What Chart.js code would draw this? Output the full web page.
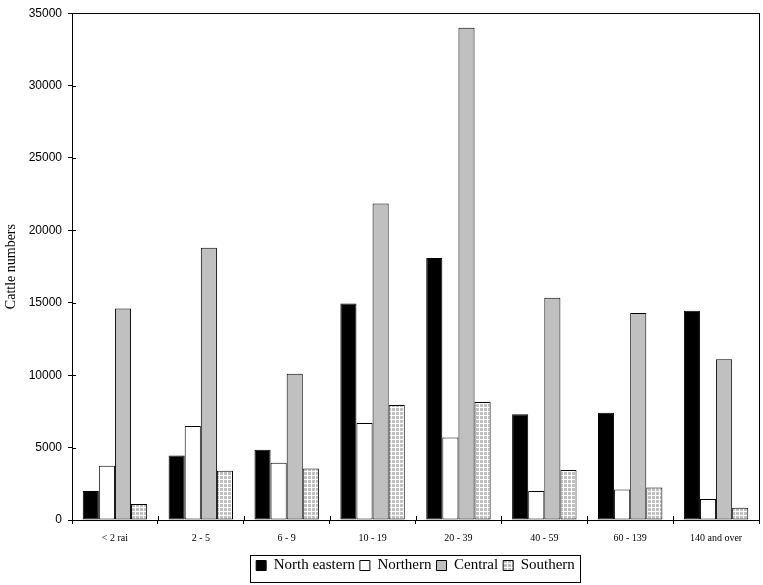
<!DOCTYPE html>
<html lang="en">
<head>
<meta charset="UTF-8">
<title>Cattle numbers</title>
<script src="https://cdn.jsdelivr.net/npm/chart.js@4.4.1/dist/chart.umd.min.js"></script>
<style>
  body { margin: 0; background: #fff; }
</style>
</head>
<body>
<canvas id="cattleChart" width="763" height="585"></canvas>
<script>

var categories = ['< 2 rai', '2 - 5', '6 - 9', '10 - 19', '20 - 39', '40 - 59', '60 - 139', '140 and over'];
var northEastern = [2000, 4450, 4850, 14950, 18100, 7300, 7400, 14450];
var northern = [3750, 6500, 3950, 6700, 5700, 2000, 2100, 1450];
var central = [14600, 18800, 10100, 21850, 34000, 15350, 14300, 11100];
var southern = [1100, 3400, 3550, 7950, 8150, 3450, 2250, 850];
var yTicks = [0, 5000, 10000, 15000, 20000, 25000, 30000, 35000];

// small checked fill for the Southern bars
function makeGridPattern() {
  var c = document.createElement('canvas');
  c.width = 4;
  c.height = 4;
  var g = c.getContext('2d');
  g.fillStyle = '#ffffff';
  g.fillRect(0, 0, 4, 4);
  g.fillStyle = '#c0c0c0';
  g.fillRect(0, 0, 3, 3);
  return g.createPattern(c, 'repeat');
}

var serif = 'Liberation Serif';
var sans = 'Liberation Sans';

Chart.defaults.font.family = serif;
Chart.defaults.color = '#000';

// plot frame, inner tick marks and legend box
var framePlugin = {
  id: 'frame',
  afterDraw: function(chart) {
    var ctx = chart.ctx;
    var a = chart.chartArea;
    ctx.save();
    ctx.strokeStyle = '#000';
    ctx.lineWidth = 1;
    ctx.strokeRect(Math.round(a.left) + 0.5, Math.round(a.top) + 0.5,
      Math.round(a.right - a.left), Math.round(a.bottom - a.top));

    ctx.beginPath();
    var ys = chart.scales.y;
    ys.ticks.forEach(function(t, i) {
      var py = Math.round(ys.getPixelForTick(i)) + 0.5;
      ctx.moveTo(a.left, py);
      ctx.lineTo(a.left + 4, py);
    });
    var xs = chart.scales.x;
    for (var i = 0; i <= xs.ticks.length; i++) {
      var px = Math.round(xs.getPixelForValue(i - 0.5)) + 0.5;
      ctx.moveTo(px, a.bottom);
      ctx.lineTo(px, a.bottom - 4);
    }
    ctx.stroke();

    var lg = chart.legend;
    if (lg && lg.legendHitBoxes && lg.legendHitBoxes.length) {
      var boxes = lg.legendHitBoxes;
      var l = boxes[0].left - 6;
      var last = boxes[boxes.length - 1];
      var r = last.left + last.width + 5;
      ctx.strokeRect(Math.round(l) + 0.5, Math.round(lg.top) + 2.5,
        Math.round(r - l), Math.round(lg.height) - 3);
    }
    ctx.restore();
  }
};

var config = {
  type: 'bar',
  data: {
    labels: categories,
    datasets: [
      { label: 'North eastern', data: northEastern, backgroundColor: '#000000' },
      { label: 'Northern', data: northern, backgroundColor: '#ffffff' },
      { label: 'Central', data: central, backgroundColor: '#c0c0c0' },
      { label: 'Southern', data: southern, backgroundColor: makeGridPattern() },
    ],
  },
  options: {
    responsive: false,
    animation: false,
    datasets: {
      bar: {
        borderColor: '#000',
        borderWidth: 1,
        borderSkipped: false,
        categoryPercentage: 0.75,
        barPercentage: 1,
      },
    },
    layout: {
      padding: { top: 9, right: 4, left: 0, bottom: 2 },
    },
    scales: {
      x: {
        grid: { display: true, drawOnChartArea: false, offset: true, color: '#000', tickLength: 4 },
        border: { display: true, color: '#000' },
        ticks: {
          color: '#000',
          font: { family: serif, size: 10 },
          padding: 8,
          maxRotation: 0,
          autoSkip: false,
        },
        afterFit: function(scale) { scale.height = 33; },
      },
      y: {
        min: 0,
        max: 35000,
        afterBuildTicks: function(scale) {
          scale.ticks = yTicks.map(function(v) { return { value: v }; });
        },
        grid: { display: true, drawOnChartArea: false, color: '#000', tickLength: 4 },
        border: { display: true, color: '#000' },
        title: {
          display: true,
          text: 'Cattle numbers',
          color: '#000',
          font: { family: serif, size: 14 },
          padding: { top: 3, bottom: 0 },
        },
        ticks: {
          color: '#000',
          font: { family: sans, size: 12 },
          padding: 6,
          callback: function(v) { return String(v); },
        },
        afterFit: function(scale) { scale.width = 72; },
      },
    },
    plugins: {
      legend: {
        position: 'bottom',
        fullSize: false,
        labels: {
          color: '#000',
          font: { family: serif, size: 15 },
          boxWidth: 10,
          boxHeight: 10,
          padding: 5,
        },
      },
      tooltip: { enabled: false },
    },
  },
  plugins: [framePlugin],
};

window.onload = function() {
  var ctx = document.getElementById('cattleChart').getContext('2d');
  window.myChart = new Chart(ctx, config);
};
</script>
</body>
</html>
